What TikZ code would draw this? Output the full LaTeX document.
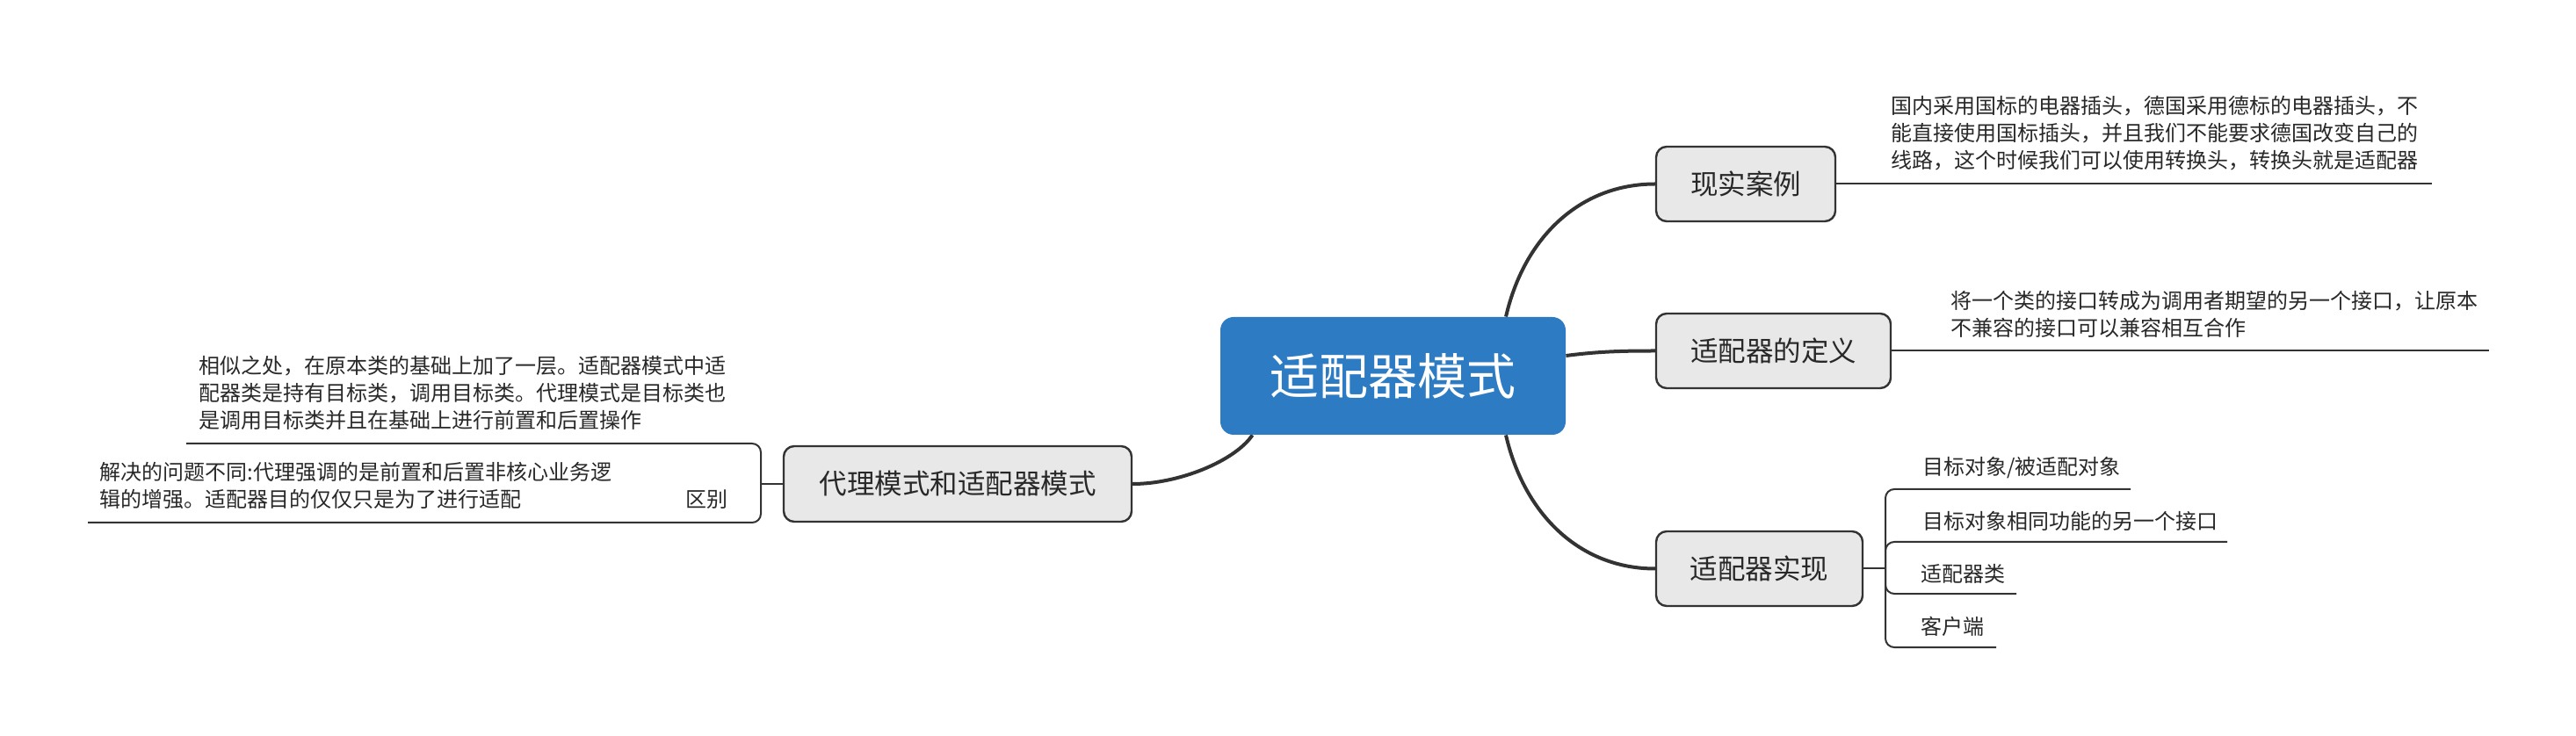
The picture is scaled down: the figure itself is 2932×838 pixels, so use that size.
\documentclass[tikz,border=0pt]{standalone}
\usepackage{fontspec}
\newfontfamily\cjk{Noto Sans CJK SC}
\usetikzlibrary{calc,backgrounds}
\definecolor{mainblue}{RGB}{44,123,195}
\definecolor{boxgray}{RGB}{232,232,232}
\definecolor{linedark}{RGB}{51,51,51}
\definecolor{textdark}{RGB}{40,40,40}
\tikzset{
  rootbox/.style={fill=mainblue, rounded corners=7.5pt, minimum width=196.5pt, minimum height=67pt, inner sep=0pt, text=white, font=\cjk\fontsize{28}{32}\selectfont},
  topicbox/.style={fill=boxgray, draw=linedark, line width=1.2pt, rounded corners=6pt, minimum height=42.5pt, inner sep=0pt, text=textdark, font=\cjk\fontsize{15.75}{18}\selectfont},
  note/.style={inner sep=0pt, align=left, text=textdark, font=\cjk\fontsize{12}{15.5}\selectfont},
  leaftext/.style={inner sep=0pt, text=textdark, font=\cjk\fontsize{12}{15.5}\selectfont},
  branch/.style={draw=linedark, line width=2pt},
  leafline/.style={draw=linedark, line width=1pt, rounded corners=5pt},
}
\begin{document}
\begin{tikzpicture}[x=0.5pt,y=-0.5pt]
\useasboundingbox (0,0) rectangle (2932,838);

% main topics
\node[rootbox] (c) at (1585.5,428) {适配器模式};
\node[topicbox, minimum width=102pt] (r1) at (1987,209.5) {现实案例};
\node[topicbox, minimum width=133.5pt] (r2) at (2018.5,399.5) {适配器的定义};
\node[topicbox, minimum width=117.5pt] (r3) at (2002.5,647.5) {适配器实现};
\node[topicbox, minimum width=198pt, minimum height=43pt] (l1) at (1090,551) {代理模式和适配器模式};

% notes on the right
\node[note, anchor=south west] (n1) at (2152,194) {国内采用国标的电器插头，德国采用德标的电器插头，不\\能直接使用国标插头，并且我们不能要求德国改变自己的\\线路，这个时候我们可以使用转换头，转换头就是适配器};
\node[note, anchor=south west] (n2) at (2220,384.5) {将一个类的接口转成为调用者期望的另一个接口，让原本\\不兼容的接口可以兼容相互合作};

% children of 适配器实现
\node[leaftext, anchor=west] (k1) at (2188,533) {目标对象/被适配对象};
\node[leaftext, anchor=west] (k2) at (2188,593) {目标对象相同功能的另一个接口};
\node[leaftext, anchor=west] (k3) at (2186,653) {适配器类};
\node[leaftext, anchor=west] (k4) at (2186,713) {客户端};

% left notes
\node[note, anchor=south west] (m1) at (226,490) {相似之处，在原本类的基础上加了一层。适配器模式中适\\配器类是持有目标类，调用目标类。代理模式是目标类也\\是调用目标类并且在基础上进行前置和后置操作};
\node[note, anchor=south west] (m2) at (113,580) {解决的问题不同:代理强调的是前置和后置非核心业务逻\\辑的增强。适配器目的仅仅只是为了进行适配};
\node[leaftext, anchor=south west] (m3) at (780,580) {区别};

% line ends
\coordinate (e1) at (2768,209.5);
\coordinate (e2) at (2833,399.5);
\coordinate (jr) at (2146,647.5);
\coordinate (f1) at (2425,557);
\coordinate (f2) at (2535,617);
\coordinate (f3) at (2295,676);
\coordinate (f4) at (2272,737);
\coordinate (jl) at (866,551);
\coordinate (g1) at (212,505);
\coordinate (g2) at (100,595);

\begin{scope}[on background layer]
  \draw[branch] ($(c.north)+(128.5,0)$) .. controls ($(c.north)+(149.5,-91)$) and ($(r1.west)+(-85,0)$) .. (r1.west);
  \draw[branch] ($(c.east)+(0,-23)$) .. controls ($(c.east)+(38,-28)$) and ($(r2.west)+(-35,0)$) .. (r2.west);
  \draw[branch] ($(c.south)+(128.5,0)$) .. controls ($(c.south)+(149.5,91)$) and ($(r3.west)+(-85,0)$) .. (r3.west);
  \draw[branch] ($(c.south)+(-160,0)$) .. controls ($(c.south)+(-180.5,30)$) and ($(l1.east)+(52,0)$) .. (l1.east);

  \draw[leafline] (r1.east) -- (e1);
  \draw[leafline] (r2.east) -- (e2);
  \draw[leafline] (r3.east) -- (jr);
  \draw[leafline] (jr) |- (f1);
  \draw[leafline] (jr) |- (f2);
  \draw[leafline] (jr) |- (f3);
  \draw[leafline] (jr) |- (f4);
  \draw[leafline] (l1.west) -- (jl);
  \draw[leafline] (jl) |- (g1);
  \draw[leafline] (jl) |- (g2);
\end{scope}
\end{tikzpicture}
\end{document}
